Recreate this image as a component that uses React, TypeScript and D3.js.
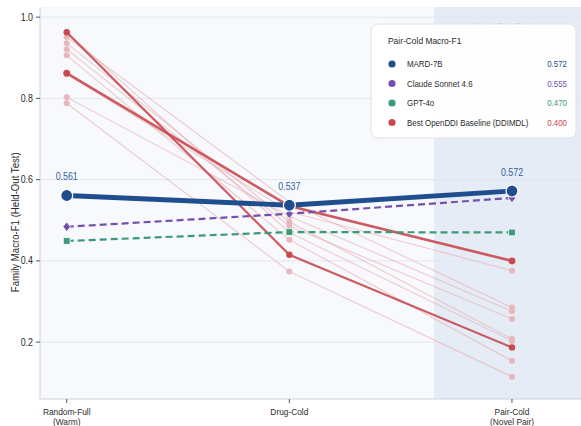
import React from 'react';
import * as d3 from 'd3';

// splits on the x axis
const splitLabels = [['Random-Full', '(Warm)'], ['Drug-Cold'], ['Pair-Cold', '(Novel Pair)']];

// main models (Random-Full, Drug-Cold, Pair-Cold)
const mardValues = [0.561, 0.537, 0.572];
const claudeValues = [0.484, 0.516, 0.555];
const gptValues = [0.449, 0.471, 0.47];
const ddimdlValues = [0.862, 0.535, 0.4];

// other OpenDDI baselines
const strongBaseline = [0.963, 0.415, 0.187];
const faintBaselines = [
  [0.951, 0.545, 0.285],
  [0.936, 0.496, 0.208],
  [0.921, 0.486, 0.257],
  [0.906, 0.452, 0.154],
  [0.86, 0.521, 0.376],
  [0.803, 0.51, 0.276],
  [0.788, 0.374, 0.115],
  [0.963, 0.47, 0.203],
];

const legendNames = ['MARD-7B', 'Claude Sonnet 4.6', 'GPT-4o', 'Best OpenDDI Baseline (DDIMDL)'];
const legendValues = [0.572, 0.555, 0.47, 0.4];
const legendColors = ['#1f4e8f', '#7450ac', '#3a9b78', '#c9494f'];

const yTicks = [0.2, 0.4, 0.6, 0.8, 1.0];

const W = 581;
const H = 426;
const font = '"Liberation Sans", Arial, sans-serif';
const SX = 0.86; // the reference type is a bit condensed

// text squeezed horizontally round its anchor
const T = ({ x, y, size, anchor = 'start', fill = '#2b2b2b', rotate = 0, children }: any) => (
  <text
    transform={`translate(${x},${y}) rotate(${rotate}) scale(${SX},1)`}
    fontSize={size}
    textAnchor={anchor}
    fill={fill}
  >
    {children}
  </text>
);

const App = () => {
  const x = d3.scaleLinear().domain([-0.12, 2.31]).range([40, W]);
  const y = d3.scaleLinear().domain([0.06, 1.025]).range([399, 7]);
  const idx = [0, 1, 2];

  const line = d3
    .line<number>()
    .x((_, i) => x(i))
    .y((d) => y(d));

  const square = d3.symbol().type(d3.symbolSquare).size(46);
  const diamond = d3.symbol().type(d3.symbolSquare).size(42);

  return (
    <svg width={W} height={H} style={{ position: 'absolute', left: 0, top: 0 }} fontFamily={font}>
      <rect x={0} y={0} width={W} height={H} fill="#ffffff" />
      {/* plot area */}
      <rect x={40} y={y(1.025)} width={W - 40} height={399 - y(1.025)} fill="#f8f9fc" />
      <rect x={x(1.65)} y={y(1.025)} width={W - x(1.65)} height={399 - y(1.025)} fill="#e6ecf5" />
      {yTicks.map((t) => (
        <line key={t} x1={40} x2={W} y1={y(t)} y2={y(t)} stroke="#e2e6ef" strokeWidth={1} />
      ))}
      <T x={(x(1.65) + W) / 2} y={31} size={10.5} anchor="middle" fill="#c3cfdf">
        Novel-Pair Region
      </T>

      {/* axes */}
      <line x1={40} x2={40} y1={y(1.025)} y2={399} stroke="#cdd2de" />
      <line x1={40} x2={W} y1={399} y2={399} stroke="#cdd2de" />
      {yTicks.map((t) => (
        <g key={t}>
          <line x1={36} x2={40} y1={y(t)} y2={y(t)} stroke="#555" />
          <T x={33} y={y(t) + 3.6} size={10.3} anchor="end">
            {t.toFixed(1)}
          </T>
        </g>
      ))}
      {splitLabels.map((lbl, i) => (
        <g key={i}>
          <line x1={x(i)} x2={x(i)} y1={399} y2={403} stroke="#555" />
          {lbl.map((s, j) => (
            <T key={j} x={x(i)} y={415 + j * 10} size={9.7} anchor="middle">
              {s}
            </T>
          ))}
        </g>
      ))}
      <T x={19} y={y(0.5) + 2} size={11.2} anchor="middle" rotate={-90}>
        Family Macro-F1 (Held-Out Test)
      </T>

      {/* baselines */}
      {faintBaselines.map((vals, k) => (
        <g key={k}>
          <path d={line(vals) || ''} fill="none" stroke="#e3a9ae" strokeOpacity={0.55} strokeWidth={1.2} />
          {idx.map((i) => (
            <circle key={i} cx={x(i)} cy={y(vals[i])} r={3} fill="#e8b7bc" />
          ))}
        </g>
      ))}
      <path d={line(strongBaseline) || ''} fill="none" stroke="#c9494f" strokeOpacity={0.9} strokeWidth={2.2} />
      {idx.map((i) => (
        <circle key={i} cx={x(i)} cy={y(strongBaseline[i])} r={3.2} fill="#c9494f" />
      ))}
      <path d={line(ddimdlValues) || ''} fill="none" stroke="#c9494f" strokeOpacity={0.9} strokeWidth={2.6} />
      {idx.map((i) => (
        <circle key={i} cx={x(i)} cy={y(ddimdlValues[i])} r={3.4} fill="#c9494f" />
      ))}

      {/* GPT-4o */}
      <path d={line(gptValues) || ''} fill="none" stroke="#3a9b78" strokeWidth={2.2} strokeDasharray="7,4" />
      {idx.map((i) => (
        <path
          key={i}
          d={square() || ''}
          transform={`translate(${x(i)},${y(gptValues[i])})`}
          fill="#3a9b78"
          stroke="#fff"
          strokeWidth={0.8}
        />
      ))}

      {/* Claude */}
      <path d={line(claudeValues) || ''} fill="none" stroke="#7450ac" strokeWidth={2.2} strokeDasharray="7,4" />
      {idx.map((i) => (
        <path
          key={i}
          d={diamond() || ''}
          transform={`translate(${x(i)},${y(claudeValues[i])}) scale(0.85,1.05) rotate(45)`}
          fill="#7450ac"
          stroke="#fff"
          strokeWidth={0.8}
        />
      ))}

      {/* MARD-7B */}
      <path d={line(mardValues) || ''} fill="none" stroke="#1f4e8f" strokeWidth={4.8} strokeLinejoin="round" />
      {idx.map((i) => (
        <g key={i}>
          <circle cx={x(i)} cy={y(mardValues[i])} r={6} fill="#1f4e8f" stroke="#fff" strokeWidth={1.2} />
          <T x={x(i)} y={y(mardValues[i]) - 15} size={10.3} anchor="middle" fill="#2f5e9e">
            {mardValues[i].toFixed(3)}
          </T>
        </g>
      ))}

      {/* legend */}
      <rect x={371} y={24} width={205} height={114} rx={7} fill="#ffffff" fillOpacity={0.93} stroke="#dde1ea" />
      <T x={388} y={44} size={9.8}>
        Pair-Cold Macro-F1
      </T>
      {legendNames.map((name, i) => (
        <g key={name} transform={`translate(0,${64 + i * 19.5})`}>
          <circle cx={392} cy={0} r={3.6} fill={legendColors[i]} />
          <T x={407} y={3.3} size={9.2}>
            {name}
          </T>
          <T x={567} y={3.3} size={9.2} anchor="end" fill={legendColors[i]}>
            {legendValues[i].toFixed(3)}
          </T>
        </g>
      ))}
    </svg>
  );
};

export default App;
